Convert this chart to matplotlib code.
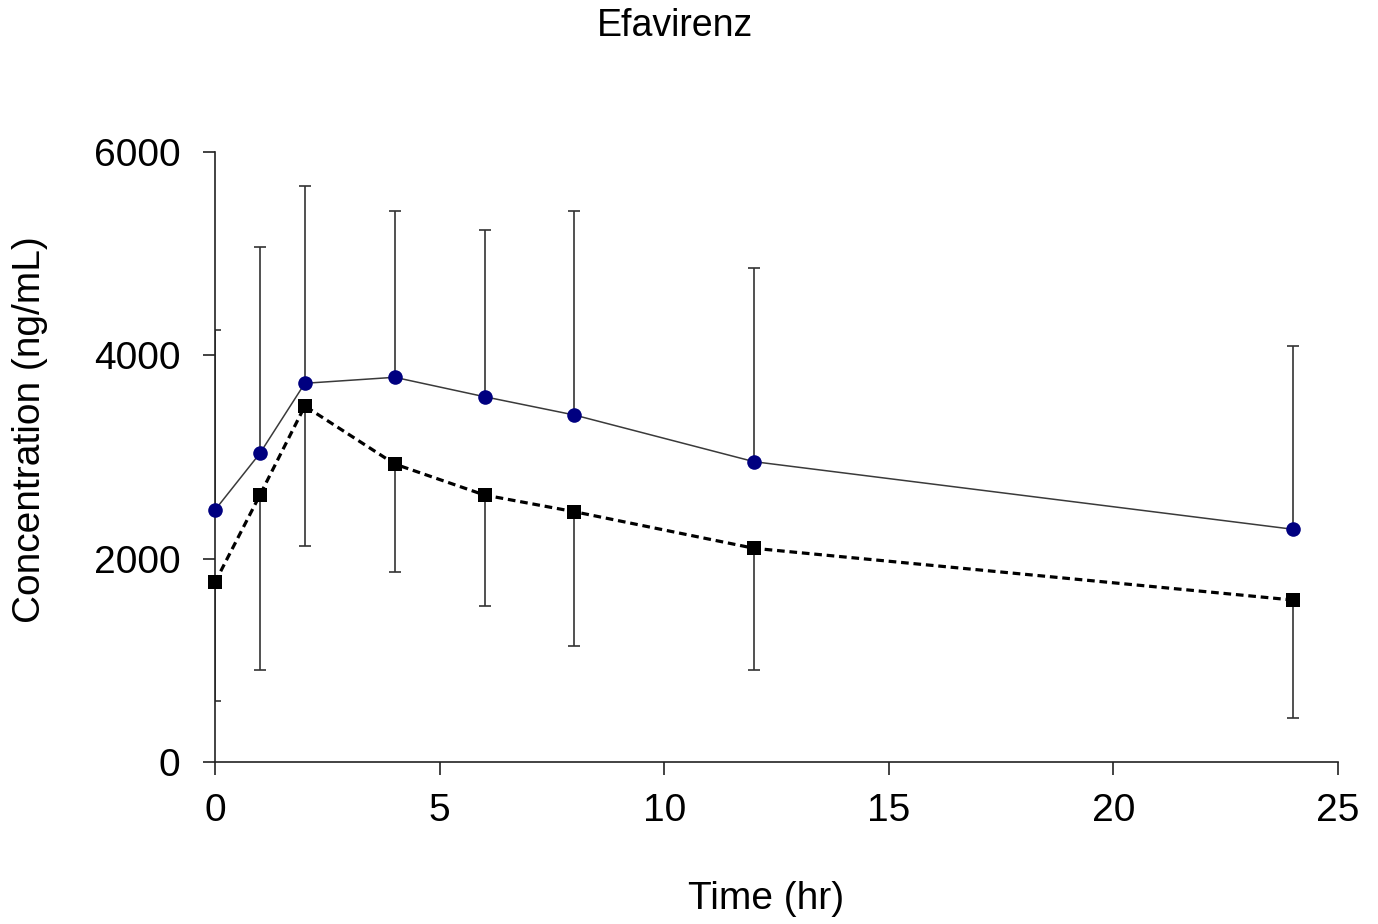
import matplotlib
matplotlib.use("Agg")
import matplotlib.pyplot as plt

plt.rcParams['font.family'] = ['Liberation Sans', 'DejaVu Sans']

time_hr = [0, 1, 2, 4, 6, 8, 12, 24]
series_a = [2479, 3036, 3725, 3784, 3593, 3413, 2954, 2289]
series_a_err_up = [1770, 2026, 1940, 1639, 1640, 2010, 1901, 1803]
series_b = [1767, 2626, 3501, 2931, 2626, 2462, 2102, 1593]
series_b_err_down = [1167, 1721, 1376, 1059, 1088, 1318, 1197, 1163]

x_ticks = [0, 5, 10, 15, 20, 25]
y_ticks = [0, 2000, 4000, 6000]

fig = plt.figure(figsize=(13.78, 9.24), dpi=100)
ax = fig.add_axes([215/1378, 1-762/924, (1338-215)/1378, (762-152)/924])

ecol = '#333333'
ax.errorbar(time_hr, series_a, yerr=[[0]*len(series_a), series_a_err_up],
            fmt='none', ecolor=ecol, elinewidth=1.2, capsize=4.5, capthick=1.2, zorder=2)
ax.errorbar(time_hr, series_b, yerr=[series_b_err_down, [0]*len(series_b)],
            fmt='none', ecolor=ecol, elinewidth=1.2, capsize=4.5, capthick=1.2, zorder=2)

ax.plot(time_hr, series_a, color='#3a3a3a', lw=1.1, zorder=3, clip_on=False)
ax.plot(time_hr, series_a, 'o', color='#000080', markersize=10.5, markeredgewidth=0,
        zorder=4, clip_on=False)
ax.plot(time_hr, series_b, color='black', lw=2.3, dashes=(2.4, 1.5), zorder=3, clip_on=False)
ax.plot(time_hr, series_b, 's', color='black', markersize=9.5, markeredgewidth=0,
        zorder=4, clip_on=False)

ax.set_xlim(0, 25)
ax.set_ylim(0, 6000)
ax.set_xticks(x_ticks)
ax.set_yticks(y_ticks)
for s in ['top', 'right']:
    ax.spines[s].set_visible(False)
for s in ['left', 'bottom']:
    ax.spines[s].set_color('#222222')
    ax.spines[s].set_linewidth(1.2)
ax.tick_params(axis='both', direction='out', length=9, width=1.2, color='#222222',
               labelsize=28)
ax.tick_params(axis='x', pad=13)
ax.tick_params(axis='y', pad=16)
ax.set_xlabel('Time (hr)', fontsize=28, va='center')
ax.set_ylabel('Concentration (ng/mL)', fontsize=28, va='center')
ax.xaxis.set_label_coords((766-215)/(1338-215), -(899-762)/(762-152))
ax.yaxis.set_label_coords(-(215-30)/(1338-215), (762-430)/(762-152))
fig.text(675/1378, 1-26/924, 'Efavirenz', fontsize=27, ha='center', va='center')

fig.savefig('out.png', dpi=100)
